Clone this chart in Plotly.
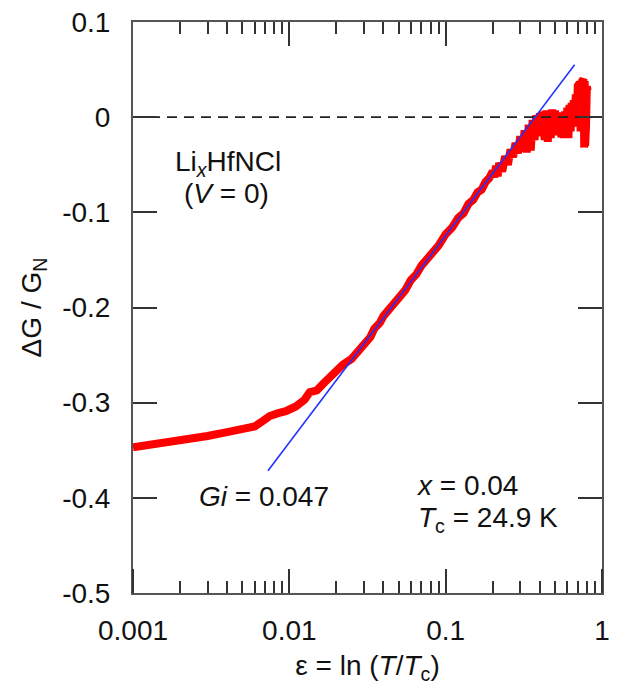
import plotly.graph_objects as go

# ---- data ----
eps_red = [0.001, 0.0015, 0.002, 0.003, 0.004, 0.005, 0.006, 0.0068, 0.0075, 0.0085,
           0.0095, 0.011, 0.0125, 0.0135, 0.015, 0.0165, 0.018, 0.02, 0.022,
           0.025, 0.028, 0.03, 0.033, 0.035, 0.038, 0.04, 0.045, 0.05, 0.055,
           0.06, 0.065, 0.07, 0.075, 0.08, 0.09, 0.1, 0.11, 0.12, 0.13, 0.14,
           0.15, 0.16, 0.17, 0.18, 0.19,
           0.20, 0.205, 0.21, 0.215, 0.22, 0.23, 0.24, 0.25, 0.26, 0.27, 0.28,
           0.29, 0.30, 0.31, 0.32, 0.33, 0.34, 0.35, 0.36, 0.37, 0.38, 0.39,
           0.40, 0.41, 0.42, 0.43, 0.44, 0.45, 0.46, 0.47, 0.48, 0.49, 0.50,
           0.51, 0.52, 0.53, 0.54, 0.55, 0.56, 0.57, 0.58, 0.59, 0.60, 0.61,
           0.62, 0.63, 0.64, 0.65, 0.66, 0.67, 0.68, 0.69, 0.70, 0.71, 0.72,
           0.73, 0.74, 0.75, 0.76, 0.77, 0.775, 0.78, 0.785, 0.79, 0.80, 0.81]
dG_red = [-0.347, -0.343, -0.340, -0.335, -0.331, -0.328, -0.325, -0.319, -0.314, -0.311,
          -0.309, -0.304, -0.297, -0.289, -0.287, -0.280, -0.273, -0.267, -0.260,
          -0.254, -0.245, -0.237, -0.231, -0.222, -0.216, -0.209, -0.200, -0.189, -0.182,
          -0.171, -0.165, -0.156, -0.151, -0.144, -0.135, -0.123, -0.116, -0.106, -0.101, -0.091,
          -0.087, -0.079, -0.076, -0.068, -0.064,
          -0.057, -0.063, -0.051, -0.062, -0.048, -0.057, -0.041, -0.050, -0.034, -0.042, -0.027,
          -0.038, -0.020, -0.036, -0.014, -0.037, -0.008, -0.035, -0.003, -0.024, 0.002, -0.019,
          0.004, -0.020, 0.006, -0.024, 0.007, -0.026, 0.006, -0.022, 0.008, -0.019, 0.007,
          -0.017, 0.005, -0.019, 0.002, -0.021, 0.004, -0.022, 0.006, -0.020, 0.010, -0.022,
          0.013, -0.015, 0.015, -0.010, 0.018, -0.006, 0.024, -0.008, 0.033, -0.010, 0.036,
          -0.015, 0.037, -0.030, 0.040, -0.032, 0.038, -0.030, 0.035, -0.010, 0.032, 0.028]

eps_fit = [0.0073, 0.668]
dG_fit = [-0.3716, 0.0550]

eps_zero = [0.001, 1.0]
dG_zero = [0.0, 0.0]

x_tickvals = [0.001, 0.01, 0.1, 1]
x_ticktext = ["0.001", "0.01", "0.1", "1"]
y_tickvals = [0.1, 0.0, -0.1, -0.2, -0.3, -0.4, -0.5]
y_ticktext = ["0.1", "0", "-0.1", "-0.2", "-0.3", "-0.4", "-0.5"]
x_minor = [m * d for d in (0.001, 0.01, 0.1) for m in range(2, 10)]

FONT = "Liberation Sans, Arial, Helvetica, sans-serif"
FS = 28
TXT = "#111111"
TICKC = "#333333"

fig = go.Figure()
fig.add_trace(go.Scatter(x=eps_zero, y=dG_zero, mode="lines", xaxis="x2", yaxis="y2",
                         line=dict(color="#222222", width=1.6, dash="10px,7px"),
                         hoverinfo="skip", showlegend=False))
fig.add_trace(go.Scatter(x=eps_red, y=dG_red, mode="lines",
                         line=dict(color="#ff0000", width=8),
                         showlegend=False))
fig.add_trace(go.Scatter(x=eps_fit, y=dG_fit, mode="lines", xaxis="x3",
                         line=dict(color="#2233ff", width=1.6),
                         showlegend=False))

minor_in = dict(ticks="inside", ticklen=12, tickcolor=TICKC, tickwidth=1.8,
                tickmode="array", tickvals=x_minor, showgrid=False)
minor_out = dict(ticks="outside", ticklen=12, tickcolor=TICKC, tickwidth=1.8,
                 tickmode="array", tickvals=x_minor, showgrid=False)

fig.update_layout(
    # main x: frame line, labels and title (transparent outside ticks give the label gap)
    xaxis=dict(type="log", range=[-3, 0], tickmode="array",
               tickvals=x_tickvals, ticktext=x_ticktext,
               showline=True, linecolor="#555555", linewidth=1.5, mirror=True,
               ticks="outside", ticklen=12, tickcolor="rgba(0,0,0,0)",
               showgrid=False, zeroline=False,
               tickfont=dict(family=FONT, size=FS, color=TXT),
               title=dict(text="ε = ln (<i>T</i>/<i>T</i><sub>c</sub>)",
                          font=dict(family=FONT, size=FS, color=TXT), standoff=10)),
    # top edge: inside ticks
    xaxis2=dict(type="log", range=[-3, 0], overlaying="x", side="top",
                tickmode="array", tickvals=x_tickvals, showticklabels=False,
                showline=False, ticks="inside", ticklen=24, tickwidth=1.8, tickcolor=TICKC,
                minor=minor_in, showgrid=False, zeroline=False),
    # bottom edge: ticks pointing up into the plot
    xaxis3=dict(type="log", range=[-3, 0], overlaying="x", side="top",
                anchor="free", position=0,
                tickmode="array", tickvals=x_tickvals, showticklabels=False,
                showline=False, ticks="outside", ticklen=24, tickwidth=1.8, tickcolor=TICKC,
                minor=minor_out, showgrid=False, zeroline=False),
    # left frame + inside ticks (mirrored on the right)
    yaxis=dict(range=[-0.5, 0.1], tickmode="array", tickvals=y_tickvals,
               showticklabels=False,
               showline=True, linecolor="#555555", linewidth=1.5, mirror="ticks",
               ticks="inside", ticklen=24, tickwidth=1.8, tickcolor=TICKC,
               showgrid=False, zeroline=False),
    # left labels + title
    yaxis2=dict(range=[-0.5, 0.1], overlaying="y", side="left",
                tickmode="array", tickvals=y_tickvals, ticktext=y_ticktext,
                showline=False, ticks="outside", ticklen=16, tickcolor="rgba(0,0,0,0)",
                showgrid=False, zeroline=False,
                tickfont=dict(family=FONT, size=FS, color=TXT),
                title=dict(text="ΔG / G<sub>N</sub>",
                           font=dict(family=FONT, size=FS, color=TXT), standoff=12)),
)

ann_font = dict(family=FONT, size=FS, color=TXT)
annotations = [
    dict(x=-2.391, y=-0.049, text="Li<sub><i>x</i></sub>HfNCl", xanchor="center", yanchor="middle"),
    dict(x=-2.403, y=-0.080, text="(<i>V</i> = 0)", xanchor="center", yanchor="middle"),
    dict(x=-2.165, y=-0.399, text="<i>Gi</i> = 0.047", xanchor="center", yanchor="middle"),
    dict(x=-1.200, y=-0.387, text="<i>x</i> = 0.04", xanchor="left", yanchor="middle"),
    dict(x=-1.188, y=-0.423, text="<i>T</i><sub>c</sub> = 24.9 K", xanchor="left", yanchor="middle"),
]
for a in annotations:
    a.update(xref="x", yref="y", showarrow=False, font=ann_font)

fig.update_layout(width=617, height=690,
                  margin=dict(l=133, r=7, t=22, b=97),
                  paper_bgcolor="white", plot_bgcolor="white",
                  annotations=annotations, showlegend=False)

fig.write_html("out.html")
